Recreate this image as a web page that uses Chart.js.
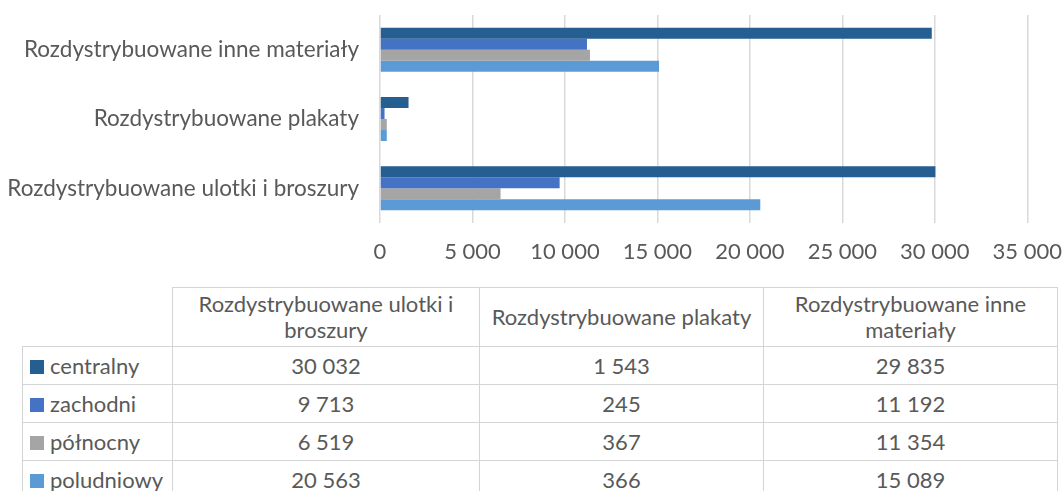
<!DOCTYPE html>
<html>
<head>
<meta charset="utf-8">
<script src="https://cdn.jsdelivr.net/npm/chart.js@4.4.1/dist/chart.umd.min.js"></script>
<style>
  html, body { margin: 0; padding: 0; background: #fff; }
  body { width: 1062px; height: 491px; position: relative; overflow: hidden; font-family: Lato, "Open Sans", sans-serif; color: #595959; }
  #chartBox { position: absolute; left: 0; top: 0; width: 1078px; height: 287px; }
  #dataTable { position: absolute; left: 22px; top: 287px; border-collapse: collapse; font-size: 22px; }
  #dataTable td { border: 1px solid #d4d4d4; text-align: center; padding: 0 6px; line-height: 26px; }
  #dataTable tr.head td { height: 58px; }
  #dataTable tr.row td { height: 37px; }
  #dataTable td.empty { border: none; }
  #dataTable td.key { text-align: left; padding-left: 7px; white-space: nowrap; }
  .swatch { display: inline-block; width: 14px; height: 14px; margin-right: 6px; vertical-align: 0px; }
</style>
</head>
<body>
<div id="chartBox"><canvas id="chart"></canvas></div>
<table id="dataTable"></table>
<script>
// Kategorie (kolejność jak w tabeli danych)
const categories = ['Rozdystrybuowane ulotki i broszury', 'Rozdystrybuowane plakaty', 'Rozdystrybuowane inne materiały'];
const regions = ['centralny', 'zachodni', 'północny', 'poludniowy'];
const regionColors = ['#255e91', '#4472c4', '#a5a5a5', '#5b9bd5'];

const centralny = [30032, 1543, 29835];
const zachodni = [9713, 245, 11192];
const polnocny = [6519, 367, 11354];
const poludniowy = [20563, 366, 15089];

const xTicks = [0, 5000, 10000, 15000, 20000, 25000, 30000, 35000];
const colWidths = [150, 307, 284, 294];

const seriesValues = [centralny, zachodni, polnocny, poludniowy];

function fmt(v) {
    return String(v).replace(/\B(?=(\d{3})+(?!\d))/g, ' ');
}

const textColor = '#595959';
const fontFamily = 'Lato, "Open Sans", sans-serif';

new Chart(document.getElementById('chart'), {
    type: 'bar',
    data: {
        labels: categories,
        datasets: regions.map((name, i) => ({
            label: name,
            data: seriesValues[i],
            backgroundColor: regionColors[i],
            borderWidth: 0,
            categoryPercentage: 0.635,
            barPercentage: 1.0
        }))
    },
    options: {
        indexAxis: 'y',
        responsive: true,
        maintainAspectRatio: false,
        animation: false,
        layout: { padding: { top: 15, right: 34, bottom: 0, left: 0 } },
        plugins: {
            legend: { display: false },
            tooltip: { enabled: false }
        },
        scales: {
            x: {
                min: xTicks[0],
                max: xTicks[xTicks.length - 1],
                afterBuildTicks: (scale) => { scale.ticks = xTicks.map(v => ({ value: v })); },
                afterFit: (scale) => { scale.height = 64; },
                grid: { color: '#d9d9d9', lineWidth: 1.5, drawTicks: false },
                border: { display: false },
                ticks: {
                    color: textColor,
                    padding: 16,
                    font: { family: fontFamily, size: 22 },
                    callback: (v) => fmt(v)
                }
            },
            y: {
                reverse: true,
                afterFit: (scale) => { scale.width = 380; },
                grid: { display: true, drawOnChartArea: false, color: 'rgba(0,0,0,0)', drawTicks: true, tickLength: 21 },
                border: { display: false },
                ticks: {
                    color: textColor,
                    padding: 0,
                    font: { family: fontFamily, size: 22.5 }
                }
            }
        }
    }
});

// Tabela danych pod wykresem
const table = document.getElementById('dataTable');
let html = '<colgroup>' + colWidths.map(w => '<col style="width:' + w + 'px">').join('') + '</colgroup>';
html += '<tr class="head"><td class="empty"></td>' + categories.map(c => '<td>' + c + '</td>').join('') + '</tr>';
regions.forEach((name, i) => {
    html += '<tr class="row"><td class="key"><span class="swatch" style="background:' + regionColors[i] + '"></span>' + name + '</td>';
    html += seriesValues[i].map(v => '<td>' + fmt(v) + '</td>').join('') + '</tr>';
});
table.innerHTML = html;
table.style.width = colWidths.reduce((a, b) => a + b, 0) + 'px';
table.style.tableLayout = 'fixed';
</script>
</body>
</html>
